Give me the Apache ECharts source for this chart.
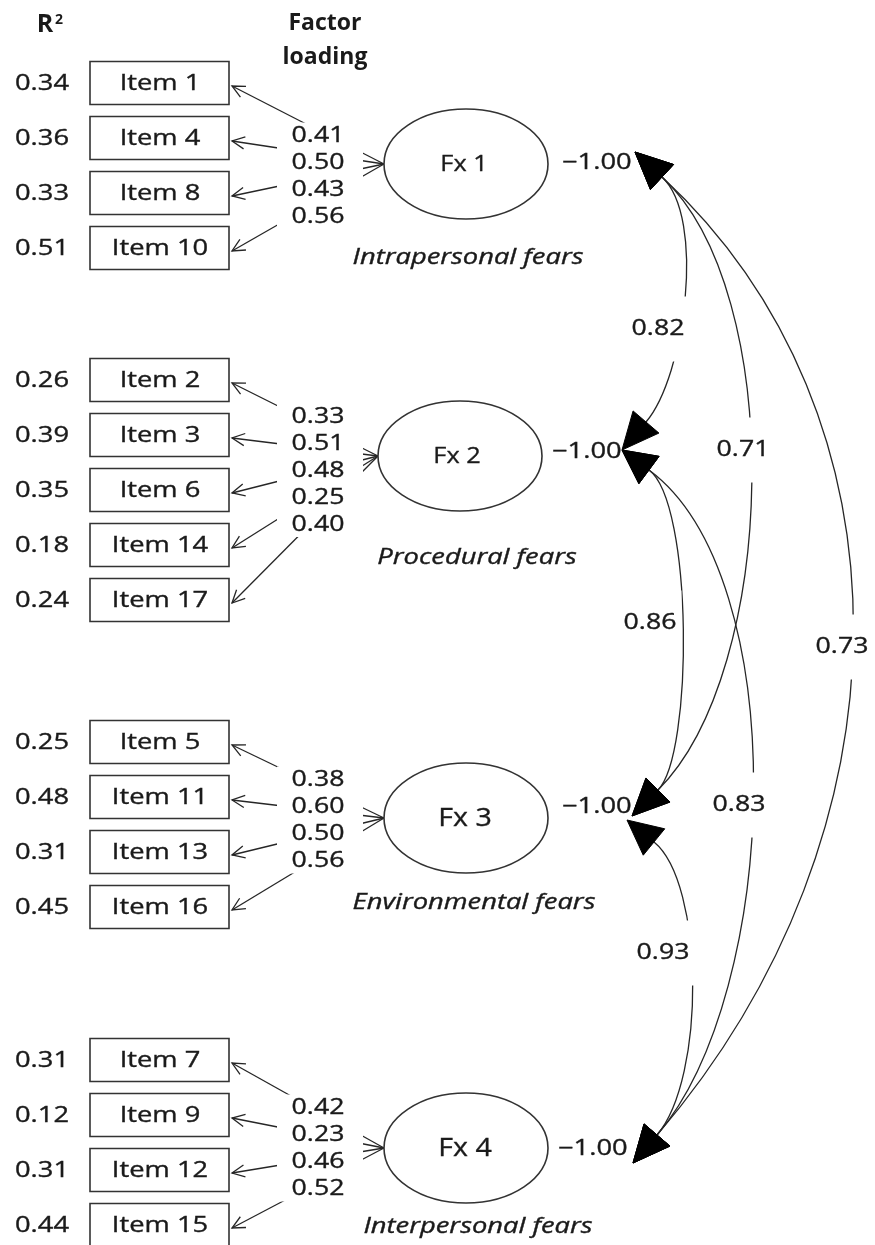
<!DOCTYPE html>
<html><head><meta charset="utf-8">
<script src="https://cdn.jsdelivr.net/npm/echarts@6/dist/echarts.min.js"></script>
<style>html,body{margin:0;padding:0;background:#fff}#c{width:875px;height:1245px}</style>
</head><body><div id="c"></div>
<script>
// ================= DATA =================
const headerR2 = ['R', '2'];          // R with superscript 2
const headerLoading = ['Factor', 'loading'];
const factorLabels = ['Fx 1', 'Fx 2', 'Fx 3', 'Fx 4'];
const factorNames = ['Intrapersonal fears', 'Procedural fears', 'Environmental fears', 'Interpersonal fears'];
const factorVariances = [-1.00, -1.00, -1.00, -1.00];

const itemsF1 = ['Item 1', 'Item 4', 'Item 8', 'Item 10'];
const r2F1 = [0.34, 0.36, 0.33, 0.51];
const loadF1 = [0.41, 0.50, 0.43, 0.56];

const itemsF2 = ['Item 2', 'Item 3', 'Item 6', 'Item 14', 'Item 17'];
const r2F2 = [0.26, 0.39, 0.35, 0.18, 0.24];
const loadF2 = [0.33, 0.51, 0.48, 0.25, 0.40];

const itemsF3 = ['Item 5', 'Item 11', 'Item 13', 'Item 16'];
const r2F3 = [0.25, 0.48, 0.31, 0.45];
const loadF3 = [0.38, 0.60, 0.50, 0.56];

const itemsF4 = ['Item 7', 'Item 9', 'Item 12', 'Item 15'];
const r2F4 = [0.31, 0.12, 0.31, 0.44];
const loadF4 = [0.42, 0.23, 0.46, 0.52];

const corrFrom = [0, 0, 0, 1, 1, 2];
const corrTo = [1, 2, 3, 2, 3, 3];
const corrValues = [0.82, 0.71, 0.73, 0.86, 0.83, 0.93];

// ================= LAYOUT (diagram geometry, styles) =================
const L = {
  groupTop: [83, 380, 742, 1060], rowGap: 55,
  box: { x0: 90, x1: 229, h: 43, textX: 160 },
  r2X: 42, arrowDy: 3,
  loadX: 318, loadGap: 27, loadMid: [176, 470, 820, 1148],
  mask: { x0: 277, x1: 363, pad: 13 },
  fcx: [466, 460, 466, 466], fcy: [164, 456, 818, 1148], rx: 82, ry: 55,
  fLabelDx: [-2, -3, -1, -1], fLabelSize: [22, 22, 26, 26], fLabelSx: [1.15, 1.15, 1.1, 1.1],
  nameX: [468, 477, 474, 478], nameY: [258, 558, 903, 1227],
  varX: [562, 552, 562, 558], varY: [163, 452, 807, 1149],
  lower: [{ t: [635, 152], b: [662, 177] }, { t: [622, 450], b: [649, 470] }, { t: [627, 820], b: [654, 842] }, null],
  upper: [null, { t: [622, 450], b: [646, 422] }, { t: [632, 816], b: [658, 790] }, { t: [633, 1163], b: [657, 1135] }],
  curveK: [[60, 60], [170, 170], [350, 400], [55, 50], [180, 190], [65, 75]],
  corrLabel: [[658, 329], [743, 450], [842, 647], [650, 623], [739, 805], [663, 953]],
  headR: [45, 25], headSup: [59, 20], headFactor: [325, 23], headLoading: [325, 57]
};
const FONT = '"Open Sans", "Noto Sans", sans-serif';
const INK = '#1a1a1a';
const LINE = '#262626';
const SX = 1.3;

const groups = [
  { items: itemsF1, r2: r2F1, load: loadF1 },
  { items: itemsF2, r2: r2F2, load: loadF2 },
  { items: itemsF3, r2: r2F3, load: loadF3 },
  { items: itemsF4, r2: r2F4, load: loadF4 }
];
const fmt = v => v.toFixed(2).replace('-', '\u2212');

function txt(api, p, s, o) {
  o = o || {};
  const c = api.coord(p);
  const size = o.size || 21;
  const al = o.align || 'center';
  return {
    type: 'text', x: c[0], y: c[1], scaleX: o.sx || SX, scaleY: 1, originX: 0, originY: 0,
    z2: o.z2 || 10,
    style: {
      text: s, x: 0, y: 0, align: al, verticalAlign: 'middle', textAlign: al, textVerticalAlign: 'middle',
      font: (o.italic ? 'italic ' : 'normal ') + (o.bold ? 'bold ' : 'normal ') + size + 'px ' + FONT,
      fill: INK, stroke: o.bold ? null : INK, lineWidth: o.bold ? 0 : 0.35,
      backgroundColor: o.bg, padding: o.pad
    }
  };
}
function openArrow(T, E, len, ang) {
  const a = Math.atan2(E[1] - T[1], E[0] - T[0]);
  return {
    type: 'polyline', z2: 3,
    shape: { points: [[T[0] + len * Math.cos(a + ang), T[1] + len * Math.sin(a + ang)], T, [T[0] + len * Math.cos(a - ang), T[1] + len * Math.sin(a - ang)]] },
    style: { stroke: LINE, lineWidth: 1.3, fill: null }
  };
}
function filledHead(api, anc) {
  const T = api.coord(anc.t), B = api.coord(anc.b);
  const dx = B[0] - T[0], dy = B[1] - T[1], d = Math.hypot(dx, dy);
  const nx = -dy / d * 17, ny = dx / d * 17;
  return { type: 'polygon', z2: 6, shape: { points: [T, [B[0] + nx, B[1] + ny], [B[0] - nx, B[1] - ny]] }, style: { fill: '#000', stroke: '#000', lineWidth: 1 } };
}
function dirOf(anc) {
  const dx = anc.b[0] - anc.t[0], dy = anc.b[1] - anc.t[1], d = Math.hypot(dx, dy);
  return [dx / d, dy / d];
}

// flattened rows
const rowData = [];
groups.forEach((g, gi) => g.items.forEach((_, ri) => rowData.push([gi, ri])));

const option = {
  animation: false,
  backgroundColor: '#fff',
  grid: { left: 0, right: 0, top: 0, bottom: 0 },
  xAxis: { type: 'value', min: 0, max: 875, show: false },
  yAxis: { type: 'value', min: 0, max: 1245, inverse: true, show: false },
  tooltip: { show: false },
  series: [
    { // item rows: R², box, item text, loading path
      type: 'custom', coordinateSystem: 'cartesian2d', clip: false, z: 1, silent: true,
      data: rowData,
      renderItem(params, api) {
        const gi = api.value(0), ri = api.value(1), g = groups[gi];
        const y = L.groupTop[gi] + ri * L.rowGap;
        const a = api.coord([L.box.x0, y - L.box.h / 2]), b = api.coord([L.box.x1, y + L.box.h / 2]);
        const E = api.coord([L.fcx[gi] - L.rx, L.fcy[gi]]);
        const T = api.coord([L.box.x1 + 3, y + L.arrowDy]);
        return {
          type: 'group', children: [
            { type: 'rect', z2: 2, shape: { x: a[0], y: a[1], width: b[0] - a[0], height: b[1] - a[1] }, style: { fill: '#fff', stroke: '#333', lineWidth: 1.6 } },
            txt(api, [L.box.textX, y + 1], g.items[ri]),
            txt(api, [L.r2X, y + 1], fmt(g.r2[ri])),
            { type: 'line', z2: 1, shape: { x1: E[0], y1: E[1], x2: T[0], y2: T[1] }, style: { stroke: LINE, lineWidth: 1.3 } },
            openArrow(T, E, 14, 0.45)
          ]
        };
      }
    },
    { // loading label blocks
      type: 'custom', coordinateSystem: 'cartesian2d', clip: false, z: 2, silent: true,
      data: groups.map((g, gi) => [gi, 0]),
      renderItem(params, api) {
        const gi = api.value(0), g = groups[gi], n = g.load.length;
        const y0 = L.loadMid[gi] - (n - 1) / 2 * L.loadGap;
        const y1 = y0 + (n - 1) * L.loadGap;
        const a = api.coord([L.mask.x0, y0 - L.mask.pad]), b = api.coord([L.mask.x1, y1 + L.mask.pad]);
        const ch = [{ type: 'rect', z2: 5, shape: { x: a[0], y: a[1], width: b[0] - a[0], height: b[1] - a[1] }, style: { fill: '#fff' } }];
        g.load.forEach((v, i) => ch.push(txt(api, [L.loadX, y0 + i * L.loadGap + 1], fmt(v), { sx: 1.27 })));
        return { type: 'group', children: ch };
      }
    },
    { // latent factors
      type: 'custom', coordinateSystem: 'cartesian2d', clip: false, z: 3, silent: true,
      data: factorLabels.map((_, i) => [i, 0]),
      renderItem(params, api) {
        const i = api.value(0);
        const c = api.coord([L.fcx[i], L.fcy[i]]);
        const e = api.coord([L.fcx[i] + L.rx, L.fcy[i] + L.ry]);
        return {
          type: 'group', children: [
            { type: 'ellipse', z2: 2, shape: { cx: c[0], cy: c[1], rx: e[0] - c[0], ry: e[1] - c[1] }, style: { fill: '#fff', stroke: '#333', lineWidth: 1.6 } },
            txt(api, [L.fcx[i] + L.fLabelDx[i], L.fcy[i] + 1], factorLabels[i], { size: L.fLabelSize[i], sx: L.fLabelSx[i] }),
            txt(api, [L.nameX[i], L.nameY[i]], factorNames[i], { italic: true }),
            txt(api, [L.varX[i], L.varY[i]], fmt(factorVariances[i]), { align: 'left' })
          ]
        };
      }
    },
    { // covariance curves
      type: 'custom', coordinateSystem: 'cartesian2d', clip: false, z: 4, silent: true,
      data: corrValues.map((_, i) => [i, 0]),
      renderItem(params, api) {
        const k = api.value(0);
        const A = L.lower[corrFrom[k]], Bn = L.upper[corrTo[k]];
        const dA = dirOf(A), dB = dirOf(Bn);
        const P0 = api.coord(A.b), P3 = api.coord(Bn.b);
        const P1 = api.coord([A.b[0] + dA[0] * L.curveK[k][0], A.b[1] + dA[1] * L.curveK[k][0]]);
        const P2 = api.coord([Bn.b[0] + dB[0] * L.curveK[k][1], Bn.b[1] + dB[1] * L.curveK[k][1]]);
        return {
          type: 'group', children: [
            { type: 'bezierCurve', z2: 1, shape: { x1: P0[0], y1: P0[1], cpx1: P1[0], cpy1: P1[1], cpx2: P2[0], cpy2: P2[1], x2: P3[0], y2: P3[1] }, style: { stroke: LINE, lineWidth: 1.3, fill: null } },
            filledHead(api, A), filledHead(api, Bn)
          ]
        };
      }
    },
    { // covariance labels
      type: 'custom', coordinateSystem: 'cartesian2d', clip: false, z: 5, silent: true,
      data: corrValues.map((_, i) => [i, 0]),
      renderItem(params, api) {
        const k = api.value(0);
        return txt(api, L.corrLabel[k], fmt(corrValues[k]), { bg: '#fff', pad: [22, 4], sx: 1.27 });
      }
    },
    { // headers
      type: 'custom', coordinateSystem: 'cartesian2d', clip: false, z: 6, silent: true,
      data: [[0, 0]],
      renderItem(params, api) {
        return {
          type: 'group', children: [
            txt(api, L.headR, headerR2[0], { bold: true, size: 25, sx: 1.0 }),
            txt(api, L.headSup, headerR2[1], { bold: true, size: 14, sx: 1.0 }),
            txt(api, L.headFactor, headerLoading[0], { bold: true, size: 23, sx: 1.0 }),
            txt(api, L.headLoading, headerLoading[1], { bold: true, size: 23, sx: 1.0 })
          ]
        };
      }
    }
  ]
};
const chart = echarts.init(document.getElementById('c'), null, { renderer: 'canvas' });
chart.setOption(option);
</script>
</body></html>
